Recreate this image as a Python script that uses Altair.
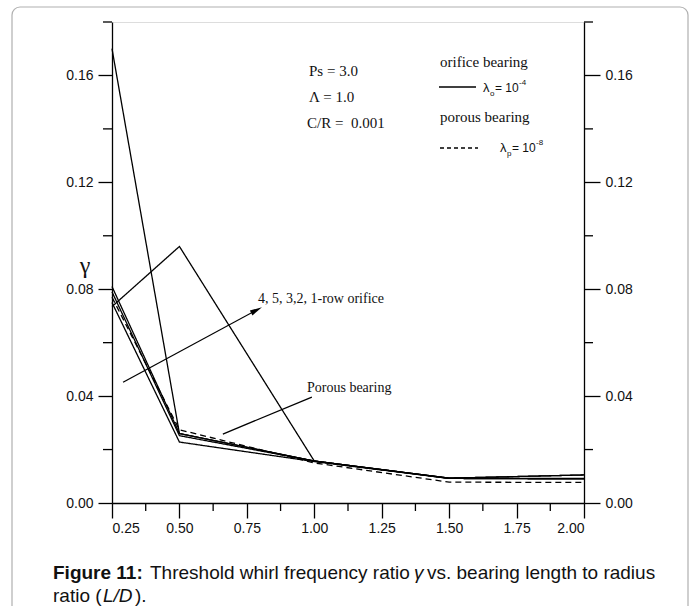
import altair as alt
import pandas as pd

# ---------------- data ----------------
ld_ratio = [0.25, 0.5, 1.0, 1.5, 2.0]
row_1 = [0.170, 0.026, 0.0157, 0.0093, 0.0105]
row_2 = [0.0735, 0.096, 0.0157, 0.0093, 0.0105]
row_3 = [0.081, 0.026, 0.0157, 0.0093, 0.0092]
row_4 = [0.079, 0.0252, 0.0157, 0.0092, 0.0090]
row_5 = [0.075, 0.0228, 0.0155, 0.0092, 0.0090]
porous = [0.077, 0.0274, 0.0150, 0.0078, 0.0077]

series = {"1-row": row_1, "2-row": row_2, "3-row": row_3, "4-row": row_4, "5-row": row_5, "porous": porous}
rows = []
for name, vals in series.items():
    for x, y in zip(ld_ratio, vals):
        rows.append({"ld": x, "gamma": y, "series": name,
                     "kind": "porous" if name == "porous" else "orifice"})
df = pd.DataFrame(rows)

x_major = [0.25, 0.5, 0.75, 1.0, 1.25, 1.5, 1.75, 2.0]
x_minor = [0.375, 0.625, 0.875, 1.125, 1.375, 1.625, 1.875]
y_major = [0.0, 0.04, 0.08, 0.12, 0.16]
y_minor = [0.02, 0.06, 0.10, 0.14, 0.18]

W, H = 472, 481
xs = alt.Scale(domain=[0.25, 2.0], nice=False, zero=False)
ys = alt.Scale(domain=[0, 0.18], nice=False, zero=False)

SANS = "Liberation Sans"
SERIF = "Liberation Serif"

axis_common = dict(grid=False, domainColor="black", domainWidth=1.3, tickColor="black",
                   tickWidth=1.3, labelFont=SANS, labelFontSize=14, labelColor="#111",
                   title=None, format=".2f")

lines = alt.Chart(df).mark_line(color="black", strokeWidth=1.3).encode(
    x=alt.X("ld:Q", scale=xs, axis=alt.Axis(values=x_major, tickSize=15, labelPadding=3, **axis_common)),
    y=alt.Y("gamma:Q", scale=ys, axis=alt.Axis(values=y_major, tickSize=14, labelPadding=5,
                                               orient="left", **axis_common)),
    detail="series:N",
    strokeDash=alt.StrokeDash("kind:N", scale=alt.Scale(domain=["orifice", "porous"],
                                                        range=[[1, 0], [6, 4]]), legend=None),
)

right_axis = alt.Chart(df).mark_point(opacity=0).encode(
    x=alt.X("ld:Q", scale=xs, axis=None),
    y=alt.Y("gamma:Q", scale=ys, axis=alt.Axis(values=y_major, tickSize=16, labelPadding=5,
                                               orient="right", **axis_common)),
)

# minor ticks
ymin_df = pd.DataFrame({"v": y_minor})
xmin_df = pd.DataFrame({"v": x_minor})
minor_left = alt.Chart(ymin_df).mark_rule(color="black", strokeWidth=1.3).encode(
    y=alt.Y("v:Q", scale=ys, axis=None), x=alt.value(-9), x2=alt.value(0))
minor_right = alt.Chart(ymin_df).mark_rule(color="black", strokeWidth=1.3).encode(
    y=alt.Y("v:Q", scale=ys, axis=None), x=alt.value(W), x2=alt.value(W + 9))
minor_bottom = alt.Chart(xmin_df).mark_rule(color="black", strokeWidth=1.3).encode(
    x=alt.X("v:Q", scale=xs, axis=None), y=alt.value(H), y2=alt.value(H + 8))

# annotation arrows (data coordinates)
arrow_start = (0.291, 0.0452)
arrow_head = (0.786, 0.0722)
pointer_start = (0.661, 0.0258)
pointer_end = (0.991, 0.0396)

arrow_df = pd.DataFrame({"x": [arrow_start[0]], "y": [arrow_start[1]],
                         "x2": [arrow_head[0]], "y2": [arrow_head[1]]})
arrow_line = alt.Chart(arrow_df).mark_rule(color="black", strokeWidth=1.3).encode(
    x=alt.X("x:Q", scale=xs, axis=None), y=alt.Y("y:Q", scale=ys, axis=None), x2="x2:Q", y2="y2:Q")
arrow_tip = alt.Chart(arrow_df).mark_point(
    shape="M0,-1L0.45,1L-0.45,1Z", filled=True, color="black", opacity=1, size=150, angle=61.6
).encode(x=alt.X("x2:Q", scale=xs, axis=None), y=alt.Y("y2:Q", scale=ys, axis=None))

pointer_df = pd.DataFrame({"x": [pointer_start[0]], "y": [pointer_start[1]],
                           "x2": [pointer_end[0]], "y2": [pointer_end[1]]})
pointer_line = alt.Chart(pointer_df).mark_rule(color="black", strokeWidth=1.3).encode(
    x=alt.X("x:Q", scale=xs, axis=None), y=alt.Y("y:Q", scale=ys, axis=None), x2="x2:Q", y2="y2:Q")

one = pd.DataFrame({"a": [0]})


def txt(s, x, y, size=15, font=SERIF, weight="normal", style="normal", align="left"):
    return alt.Chart(one).mark_text(text=s, font=font, fontSize=size, fontWeight=weight,
                                    fontStyle=style, align=align, baseline="middle",
                                    color="#111").encode(x=alt.value(x), y=alt.value(y))


def hrule(x1, x2, y, dash=None):
    kw = dict(color="black", strokeWidth=1.3)
    if dash:
        kw["strokeDash"] = dash
    return alt.Chart(one).mark_rule(**kw).encode(x=alt.value(x1), x2=alt.value(x2), y=alt.value(y))


annotations = [
    txt("Ps = 3.0", 197, 49),
    txt("Λ = 1.0", 197, 75),
    txt("C/R =\u00a0\u00a00.001", 195, 101),
    txt("orifice bearing", 328, 40),
    hrule(327, 364, 65),
    txt("λ", 371, 66, size=13, font=SANS),
    txt("o", 378, 72, size=8, font=SANS),
    txt("= 10", 383, 66, size=12, font=SANS),
    txt("-4", 407, 61, size=8, font=SANS),
    txt("porous  bearing", 328, 95),
    hrule(328, 366, 126, dash=[4, 3]),
    txt("λ", 388, 126, size=13, font=SANS),
    txt("p", 395, 132, size=8, font=SANS),
    txt("= 10", 400, 126, size=12, font=SANS),
    txt("-8", 424, 121, size=8, font=SANS),
    txt("4, 5, 3,2, 1-row orifice", 146, 277, size=14),
    txt("Porous bearing", 195, 366, size=14),
    txt("γ", -27, 244, size=24, font=SERIF, align="center"),
]

border = alt.Chart(one).mark_rect(fillOpacity=0, stroke="#b0b0b0", strokeWidth=1.2,
                                  cornerRadius=8).encode(
    x=alt.value(-100), x2=alt.value(576), y=alt.value(-15), y2=alt.value(640))

caption = [
    txt("Figure 11:", -59, 551, size=19, font=SANS, weight="bold"),
    txt("Threshold whirl frequency ratio", 38, 551, size=19, font=SANS),
    txt("γ", 302, 551, size=19, font=SANS, style="italic"),
    txt("vs. bearing length to radius", 315, 551, size=19, font=SANS),
    txt("ratio (", -59, 574, size=19, font=SANS),
    txt("L/D", -9, 574, size=19, font=SANS, style="italic"),
    txt(").", 23, 574, size=19, font=SANS),
]

chart = alt.layer(
    border, lines, right_axis, minor_left, minor_right, minor_bottom,
    arrow_line, arrow_tip, pointer_line, *annotations, *caption
).resolve_axis(x="independent", y="independent").properties(
    width=W, height=H,
    autosize=alt.AutoSizeParams(type="none"),
    padding={"left": 112, "top": 22, "right": 113, "bottom": 103},
).configure_view(strokeWidth=0).configure(background="white")

chart.save("out.html", embed_options={"renderer": "svg", "actions": False})
